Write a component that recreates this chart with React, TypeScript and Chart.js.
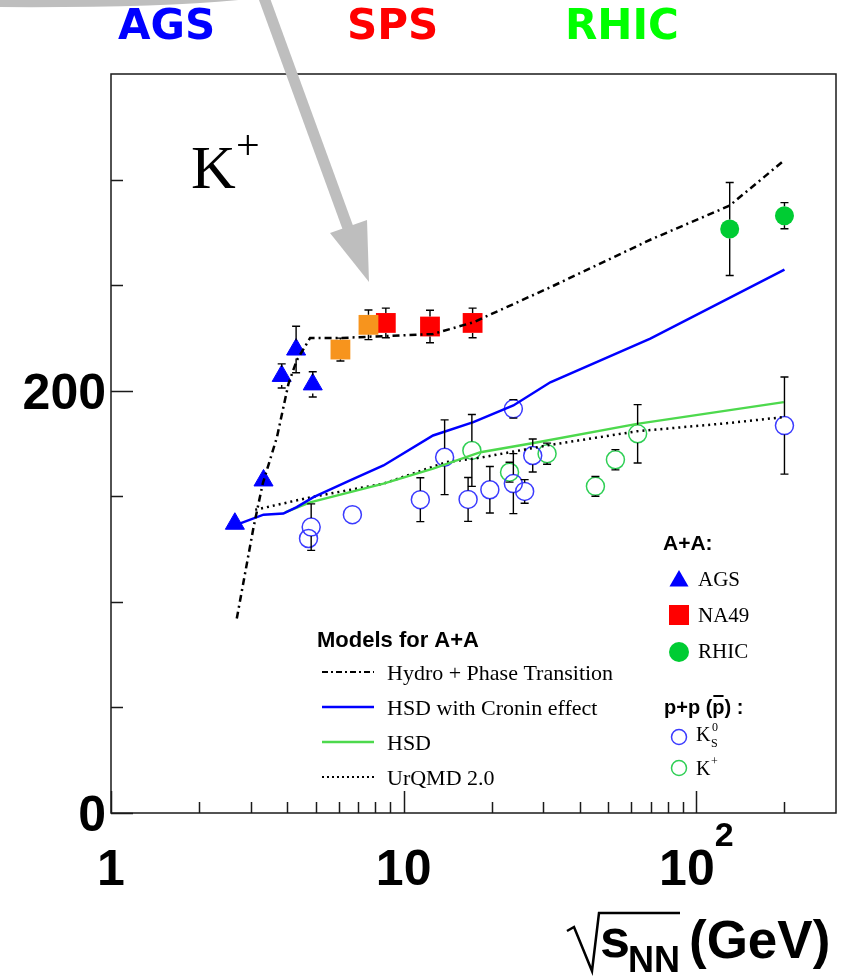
import React, { useEffect, useRef } from "react";
import { Chart, registerables } from "chart.js";

Chart.register(...registerables);

// ---------- A+A data ----------
const agsEnergy = [2.65, 3.32, 3.83, 4.29, 4.89];
const agsYield = [137, 157.5, 207, 219.5, 203];
const agsError = [0, 0, 5.7, 11, 6];

const na49LowEnergy = [6.08, 7.58];
const na49LowYield = [219.5, 231.2];
const na49LowError = [5.4, 7];

const na49Energy = [8.69, 12.3, 17.2];
const na49Yield = [232.1, 230.4, 232.1];
const na49Error = [7, 7.7, 7];

const rhicEnergy = [130, 200];
const rhicYield = [276.6, 282.9];
const rhicError = [22, 6.2];

// ---------- p+p data ----------
const ppK0sEnergy = [4.83, 4.73, 6.68, 11.4, 13.8, 16.6, 19.7, 23.7, 25.9, 23.7, 27.6, 200];
const ppK0sYield = [135.4, 130.0, 141.3, 148.4, 168.5, 148.5, 153.1, 156.0, 152.3, 191.4, 169.3, 183.5];
const ppK0sError = [11, 0, 0, 10.4, 17.7, 10.4, 11, 14.2, 5.6, 4.4, 7.8, 23];

const ppKplusEnergy = [17.1, 23.0, 30.9, 45.2, 52.9, 63.0];
const ppKplusYield = [171.7, 161.4, 170.2, 154.7, 167.3, 179.6];
const ppKplusError = [17, 4.7, 5, 4.7, 4.8, 13.8];

// ---------- model curves ----------
const hydroEnergy = [2.69, 3.07, 3.3, 3.69, 4.04, 4.31, 4.79, 6.15, 12.6, 17.3, 31.7, 69.6, 129.7, 200];
const hydroYield = [92.1, 135.4, 156.0, 178.0, 203.3, 214.3, 225.0, 225.0, 226.9, 232.4, 249.0, 271.5, 287.6, 309.2];

const hsdCroninEnergy = [2.65, 3.32, 3.88, 4.31, 4.92, 6.56, 8.53, 12.6, 17.3, 23.7, 31.7, 69.6, 200];
const hsdCroninYield = [136.2, 141.3, 141.8, 144.9, 149.6, 157.5, 164.6, 178.8, 185.1, 193.0, 204.0, 224.7, 257.3];

const hsdEnergy = [3.93, 4.79, 8.53, 12.6, 18.3, 27.8, 62.7, 199];
const hsdYield = [142.4, 147.1, 156.0, 163.1, 170.9, 175.2, 184.3, 194.6];

const urqmdEnergy = [3.11, 4.79, 8.53, 14.0, 18.3, 30.9, 62.7, 127, 199];
const urqmdYield = [143.6, 149.5, 156.0, 166.2, 168.3, 174.1, 180.8, 184.6, 187.5];

// ---------- axes ----------
const yMinorTicks = [50, 100, 150, 250, 300];
const yMajorTicks = [0, 200];
const yTickLabels = ["0", "200"];
const xMajorTicks = [1, 10, 100];
const xMinorTicks = [2, 3, 4, 5, 6, 7, 8, 9, 20, 30, 40, 50, 60, 70, 80, 90, 200];
const xTickLabels = ["1", "10", "10^2"];
const beamLabels = ["AGS", "SPS", "RHIC"];
const modelLabels = ["Hydro + Phase Transition", "HSD with Cronin effect", "HSD", "UrQMD 2.0"];
const aaLabels = ["AGS", "NA49", "RHIC"];

const toPts = (xs: number[], ys: number[]) => xs.map((x, i) => ({ x, y: ys[i] }));

const BLUE = "#0000ff";
const RED = "#ff0000";
const ORANGE = "#f7941d";
const RHICGREEN = "#00cc33";
const OPENBLUE = "#3b3bff";
const OPENGREEN = "#2fcf55";
const HSDGREEN = "#4dd94d";
const GRAY = "#bebebe";

const SANS = '"Liberation Sans", Arial, sans-serif';
const DEJA = '"DejaVu Sans", sans-serif';
const SERIF = '"Liberation Serif", "Times New Roman", serif';

function tri(ctx: CanvasRenderingContext2D, x: number, y: number, r: number) {
  ctx.beginPath();
  ctx.moveTo(x, y - r);
  ctx.lineTo(x + r * 0.866, y + r / 2);
  ctx.lineTo(x - r * 0.866, y + r / 2);
  ctx.closePath();
  ctx.fill();
}

const decor = {
  id: "decor",
  afterDatasetsDraw(chart: any) {
    const ctx: CanvasRenderingContext2D = chart.ctx;
    const ys = chart.scales.y;
    ctx.save();
    ctx.strokeStyle = "#000";
    ctx.lineWidth = 1.4;
    chart.data.datasets.forEach((ds: any, i: number) => {
      if (!ds.errors) return;
      const meta = chart.getDatasetMeta(i);
      meta.data.forEach((el: any, j: number) => {
        const err = ds.errors[j];
        if (!err) return;
        const v = ds.data[j].y;
        const px = el.x;
        const py = el.y;
        const pTop = ys.getPixelForValue(v + err);
        const pBot = ys.getPixelForValue(v - err);
        const gap = ds.errGap || 0;
        ctx.beginPath();
        if (py - pTop > gap) {
          ctx.moveTo(px, py - gap);
          ctx.lineTo(px, pTop);
          ctx.moveTo(px - 4, pTop);
          ctx.lineTo(px + 4, pTop);
        }
        if (pBot - py > gap) {
          ctx.moveTo(px, py + gap);
          ctx.lineTo(px, pBot);
          ctx.moveTo(px - 4, pBot);
          ctx.lineTo(px + 4, pBot);
        }
        ctx.stroke();
      });
    });
    ctx.restore();
  },
  afterDraw(chart: any) {
    const ctx: CanvasRenderingContext2D = chart.ctx;
    const xs = chart.scales.x;
    const ys = chart.scales.y;
    const { left, top, right, bottom } = chart.chartArea;
    ctx.save();

    // frame
    ctx.strokeStyle = "#1a1a1a";
    ctx.lineWidth = 1.5;
    ctx.strokeRect(left, top, right - left, bottom - top);

    // ticks (inward)
    ctx.beginPath();
    yMinorTicks.forEach((v) => {
      const p = Math.round(ys.getPixelForValue(v)) + 0.5;
      ctx.moveTo(left, p);
      ctx.lineTo(left + 12, p);
    });
    yMajorTicks.forEach((v) => {
      const p = Math.round(ys.getPixelForValue(v)) + 0.5;
      ctx.moveTo(left, p);
      ctx.lineTo(left + 22, p);
    });
    xMinorTicks.forEach((v) => {
      const p = Math.round(xs.getPixelForValue(v)) + 0.5;
      ctx.moveTo(p, bottom);
      ctx.lineTo(p, bottom - 11);
    });
    xMajorTicks.forEach((v) => {
      const p = Math.round(xs.getPixelForValue(v)) + 0.5;
      ctx.moveTo(p, bottom);
      ctx.lineTo(p, bottom - 22);
    });
    ctx.stroke();

    // tick labels
    ctx.fillStyle = "#000";
    ctx.textBaseline = "alphabetic";
    ctx.font = `bold 50px ${SANS}`;
    ctx.textAlign = "right";
    yMajorTicks.forEach((v, i) => {
      ctx.fillText(yTickLabels[i], left - 5, ys.getPixelForValue(v) + 18);
    });
    xMajorTicks.forEach((v, i) => {
      const [base, exp] = xTickLabels[i].split("^");
      const cx = xs.getPixelForValue(v);
      ctx.font = `bold 50px ${SANS}`;
      const wb = ctx.measureText(base).width;
      let we = 0;
      if (exp) {
        ctx.font = `bold 34px ${SANS}`;
        we = ctx.measureText(exp).width;
      }
      const x0 = cx - (wb + we) / 2;
      ctx.textAlign = "left";
      ctx.font = `bold 50px ${SANS}`;
      ctx.fillText(base, x0, 885);
      if (exp) {
        ctx.font = `bold 34px ${SANS}`;
        ctx.fillText(exp, x0 + wb, 846);
      }
    });

    // x-axis title: sqrt(s_NN) (GeV)
    ctx.lineWidth = 2.5;
    ctx.strokeStyle = "#000";
    ctx.beginPath();
    ctx.moveTo(567, 931);
    ctx.lineTo(574, 927);
    ctx.lineTo(592, 971);
    ctx.lineTo(599, 913);
    ctx.lineTo(680, 913);
    ctx.stroke();
    ctx.textAlign = "left";
    ctx.font = `bold 54px ${SANS}`;
    ctx.fillText("s", 600, 957);
    ctx.font = `bold 36px ${SANS}`;
    ctx.fillText("NN", 628, 972);
    ctx.font = `bold 53px ${SANS}`;
    ctx.fillText("(GeV)", 689, 958);

    // beam labels
    ctx.font = `bold 42px ${DEJA}`;
    const beamColors = [BLUE, RED, "#00ff00"];
    const beamX = [118, 347, 565];
    beamLabels.forEach((t, i) => {
      ctx.fillStyle = beamColors[i];
      ctx.fillText(t, beamX[i], 39);
    });

    // K+ label
    ctx.fillStyle = "#000";
    ctx.font = `62px ${SERIF}`;
    ctx.fillText("K", 191, 188);
    ctx.font = `42px ${SERIF}`;
    ctx.fillText("+", 236, 159);

    // models legend
    ctx.font = `bold 22px ${SANS}`;
    ctx.fillText("Models for A+A", 317, 647);
    const lineY = [672, 707, 742, 777];
    const lineStyles = [
      { c: "#000", d: [6, 3, 2, 3], w: 2 },
      { c: BLUE, d: [], w: 2.5 },
      { c: HSDGREEN, d: [], w: 2.5 },
      { c: "#000", d: [2, 3], w: 2 },
    ];
    lineStyles.forEach((s, i) => {
      ctx.beginPath();
      ctx.strokeStyle = s.c;
      ctx.lineWidth = s.w;
      ctx.setLineDash(s.d);
      ctx.moveTo(322, lineY[i]);
      ctx.lineTo(374, lineY[i]);
      ctx.stroke();
    });
    ctx.setLineDash([]);
    ctx.font = `22px ${SERIF}`;
    modelLabels.forEach((t, i) => ctx.fillText(t, 387, lineY[i] + 8));

    // A+A legend
    ctx.font = `bold 21px ${SANS}`;
    ctx.fillText("A+A:", 663, 550);
    ctx.fillStyle = BLUE;
    tri(ctx, 679, 581, 11);
    ctx.fillStyle = RED;
    ctx.fillRect(669, 605, 20, 20);
    ctx.fillStyle = RHICGREEN;
    ctx.beginPath();
    ctx.arc(679, 652, 10, 0, Math.PI * 2);
    ctx.fill();
    ctx.fillStyle = "#000";
    ctx.font = `21px ${SERIF}`;
    const aaY = [586, 622, 658];
    aaLabels.forEach((t, i) => ctx.fillText(t, 698, aaY[i]));

    // p+p legend
    ctx.font = `bold 20px ${SANS}`;
    const pre = "p+p (";
    ctx.fillText("p+p (p) :", 664, 714);
    const wPre = ctx.measureText(pre).width;
    const wP = ctx.measureText("p").width;
    ctx.lineWidth = 2;
    ctx.strokeStyle = "#000";
    ctx.beginPath();
    ctx.moveTo(664 + wPre + 1, 696);
    ctx.lineTo(664 + wPre + wP - 1, 696);
    ctx.stroke();

    ctx.lineWidth = 1.5;
    ctx.strokeStyle = OPENBLUE;
    ctx.beginPath();
    ctx.arc(679, 737, 7.5, 0, Math.PI * 2);
    ctx.stroke();
    ctx.strokeStyle = OPENGREEN;
    ctx.beginPath();
    ctx.arc(679, 768, 7.5, 0, Math.PI * 2);
    ctx.stroke();
    ctx.fillStyle = "#000";
    ctx.font = `20px ${SERIF}`;
    ctx.fillText("K", 696, 741);
    ctx.fillText("K", 696, 775);
    ctx.font = `12px ${SERIF}`;
    ctx.fillText("0", 712, 731);
    ctx.fillText("S", 711, 747);
    ctx.fillText("+", 711, 765);

    // gray arrow
    ctx.strokeStyle = GRAY;
    ctx.fillStyle = GRAY;
    ctx.lineWidth = 11;
    ctx.lineCap = "butt";
    ctx.beginPath();
    ctx.moveTo(-10, 1.5);
    ctx.quadraticCurveTo(170, 3, 262, -8);
    ctx.stroke();
    ctx.beginPath();
    ctx.moveTo(263, -5);
    ctx.lineTo(348, 228);
    ctx.stroke();
    ctx.beginPath();
    ctx.moveTo(330, 233);
    ctx.lineTo(367, 220);
    ctx.lineTo(369, 282);
    ctx.closePath();
    ctx.fill();

    ctx.restore();
  },
};

export default function App() {
  const ref = useRef<HTMLCanvasElement>(null);
  useEffect(() => {
    const canvas = ref.current!;
    const lineDs = (label: string, xs: number[], ys: number[], color: string, dash: number[], w: number) => ({
      label,
      data: toPts(xs, ys),
      showLine: true,
      borderColor: color,
      borderWidth: w,
      borderDash: dash,
      pointRadius: 0,
      tension: 0,
      fill: false,
      order: 0,
    });
    const chart = new Chart(canvas, {
      type: "scatter",
      data: {
        datasets: [
          lineDs("Hydro + Phase Transition", hydroEnergy, hydroYield, "#000", [7, 4, 2, 4], 2.5),
          lineDs("HSD with Cronin effect", hsdCroninEnergy, hsdCroninYield, BLUE, [], 2.5),
          lineDs("HSD", hsdEnergy, hsdYield, HSDGREEN, [], 2.5),
          lineDs("UrQMD 2.0", urqmdEnergy, urqmdYield, "#000", [2, 4], 2.5),
          {
            label: "AGS",
            data: toPts(agsEnergy, agsYield),
            pointStyle: "triangle",
            pointRadius: 11,
            backgroundColor: BLUE,
            borderColor: BLUE,
            borderWidth: 1,
            errors: agsError,
            errGap: 9,
            order: 1,
          } as any,
          {
            label: "NA49 (20, 30 AGeV)",
            data: toPts(na49LowEnergy, na49LowYield),
            pointStyle: "rect",
            pointRadius: 14,
            backgroundColor: ORANGE,
            borderColor: ORANGE,
            borderWidth: 0,
            errors: na49LowError,
            errGap: 10,
            order: 1,
          } as any,
          {
            label: "NA49",
            data: toPts(na49Energy, na49Yield),
            pointStyle: "rect",
            pointRadius: 14,
            backgroundColor: RED,
            borderColor: RED,
            borderWidth: 0,
            errors: na49Error,
            errGap: 10,
            order: 1,
          } as any,
          {
            label: "RHIC",
            data: toPts(rhicEnergy, rhicYield),
            pointStyle: "circle",
            pointRadius: 9.5,
            backgroundColor: RHICGREEN,
            borderColor: RHICGREEN,
            borderWidth: 0,
            errors: rhicError,
            errGap: 9.5,
            order: 1,
          } as any,
          {
            label: "p+p K0s",
            data: toPts(ppK0sEnergy, ppK0sYield),
            pointStyle: "circle",
            pointRadius: 9,
            backgroundColor: "rgba(0,0,0,0)",
            borderColor: OPENBLUE,
            borderWidth: 1.5,
            errors: ppK0sError,
            errGap: 9,
            order: 1,
          } as any,
          {
            label: "p+p K+",
            data: toPts(ppKplusEnergy, ppKplusYield),
            pointStyle: "circle",
            pointRadius: 9,
            backgroundColor: "rgba(0,0,0,0)",
            borderColor: OPENGREEN,
            borderWidth: 1.5,
            errors: ppKplusError,
            errGap: 9,
            order: 1,
          } as any,
        ],
      },
      options: {
        responsive: false,
        animation: false,
        devicePixelRatio: 1,
        layout: { padding: { left: 111, top: 74, right: 14, bottom: 164 } },
        scales: {
          x: { type: "logarithmic", min: 1, max: 300, display: false },
          y: { type: "linear", min: 0, max: 350, display: false },
        },
        plugins: {
          legend: { display: false },
          tooltip: { enabled: false },
        },
        events: [],
      },
      plugins: [decor],
    });
    return () => chart.destroy();
  }, []);
  return (
    <div style={{ position: "absolute", left: 0, top: 0, width: 850, height: 977, background: "#fff" }}>
      <canvas ref={ref} width={850} height={977} style={{ width: 850, height: 977, display: "block" }} />
    </div>
  );
}
